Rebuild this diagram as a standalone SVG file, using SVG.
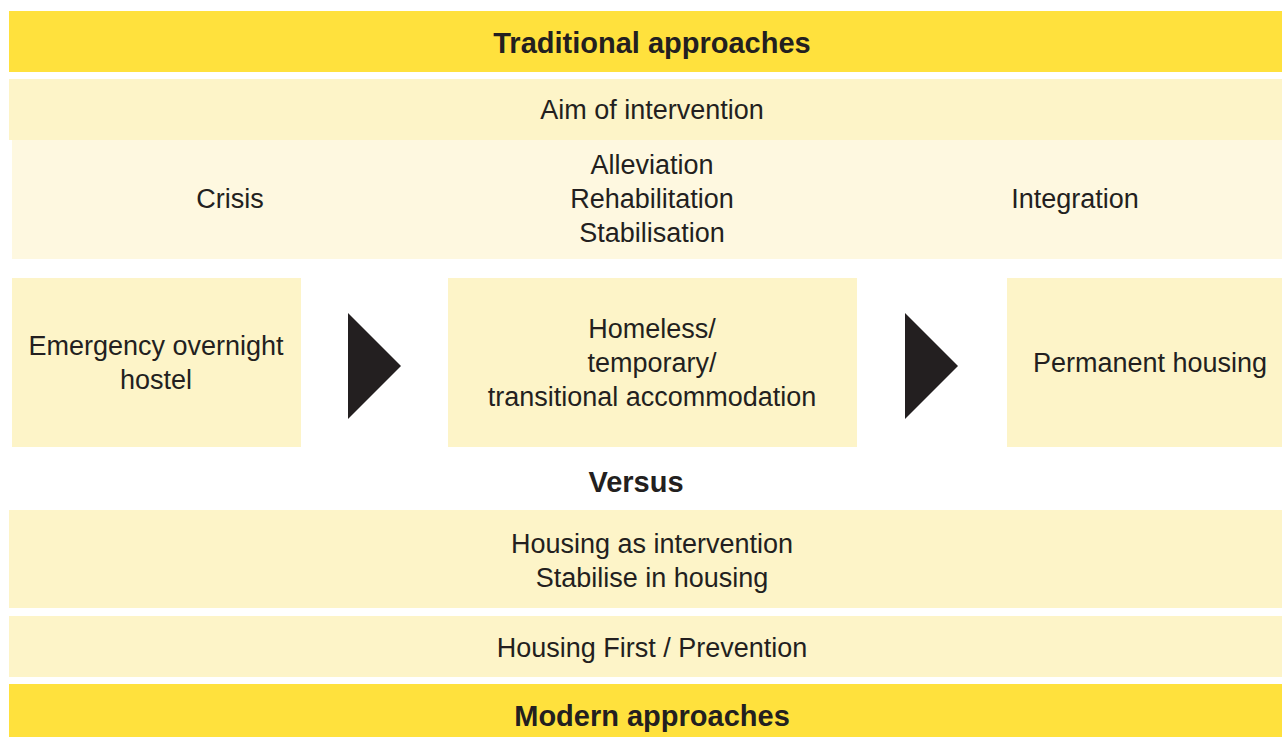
<svg xmlns="http://www.w3.org/2000/svg" width="1282" height="737" viewBox="0 0 1282 737">
<style>
.dark{fill:#FFE13D}
.light{fill:#FDF4C8}
.pale{fill:#FEF8E0}
text{font-family:"Liberation Sans",Arial,sans-serif;font-size:27px;fill:#231F20;text-anchor:middle}
.b{font-weight:bold;font-size:29px}
.arrow{fill:#231F20}
</style>
<rect width="1282" height="737" fill="#FFFFFF"/>
<g id="traditional">
<rect class="dark" x="9" y="11" width="1273" height="61"/>
<text class="b" x="652" y="53">Traditional approaches</text>
</g>
<g id="aim">
<rect class="light" x="9" y="79" width="1273" height="61"/>
<text x="652" y="119">Aim of intervention</text>
</g>
<g id="aims-row">
<rect class="pale" x="12" y="140" width="1270" height="119"/>
<text x="230" y="208">Crisis</text>
<text x="652" y="174">Alleviation</text>
<text x="652" y="208">Rehabilitation</text>
<text x="652" y="242">Stabilisation</text>
<text x="1075" y="208">Integration</text>
</g>
<g id="emergency">
<rect class="light" x="12" y="278" width="289" height="169"/>
<text x="156" y="355">Emergency overnight</text>
<text x="156" y="389">hostel</text>
</g>
<g id="temporary">
<rect class="light" x="448" y="278" width="409" height="169"/>
<text x="652" y="338">Homeless/</text>
<text x="652" y="372">temporary/</text>
<text x="652" y="406">transitional accommodation</text>
</g>
<g id="permanent">
<rect class="light" x="1007" y="278" width="275" height="169"/>
<text x="1150" y="372">Permanent housing</text>
</g>
<g id="connectors">
<polygon class="arrow" points="348,313 401,366 348,419"/>
<polygon class="arrow" points="905,313 958,366 905,419"/>
</g>
<g id="versus">
<text class="b" x="636" y="492">Versus</text>
</g>
<g id="housing-intervention">
<rect class="light" x="9" y="510" width="1273" height="98"/>
<text x="652" y="553">Housing as intervention</text>
<text x="652" y="587">Stabilise in housing</text>
</g>
<g id="housing-first">
<rect class="light" x="9" y="616" width="1273" height="61"/>
<text x="652" y="657">Housing First / Prevention</text>
</g>
<g id="modern">
<rect class="dark" x="9" y="684" width="1273" height="53"/>
<text class="b" x="652" y="726">Modern approaches</text>
</g>
</svg>
